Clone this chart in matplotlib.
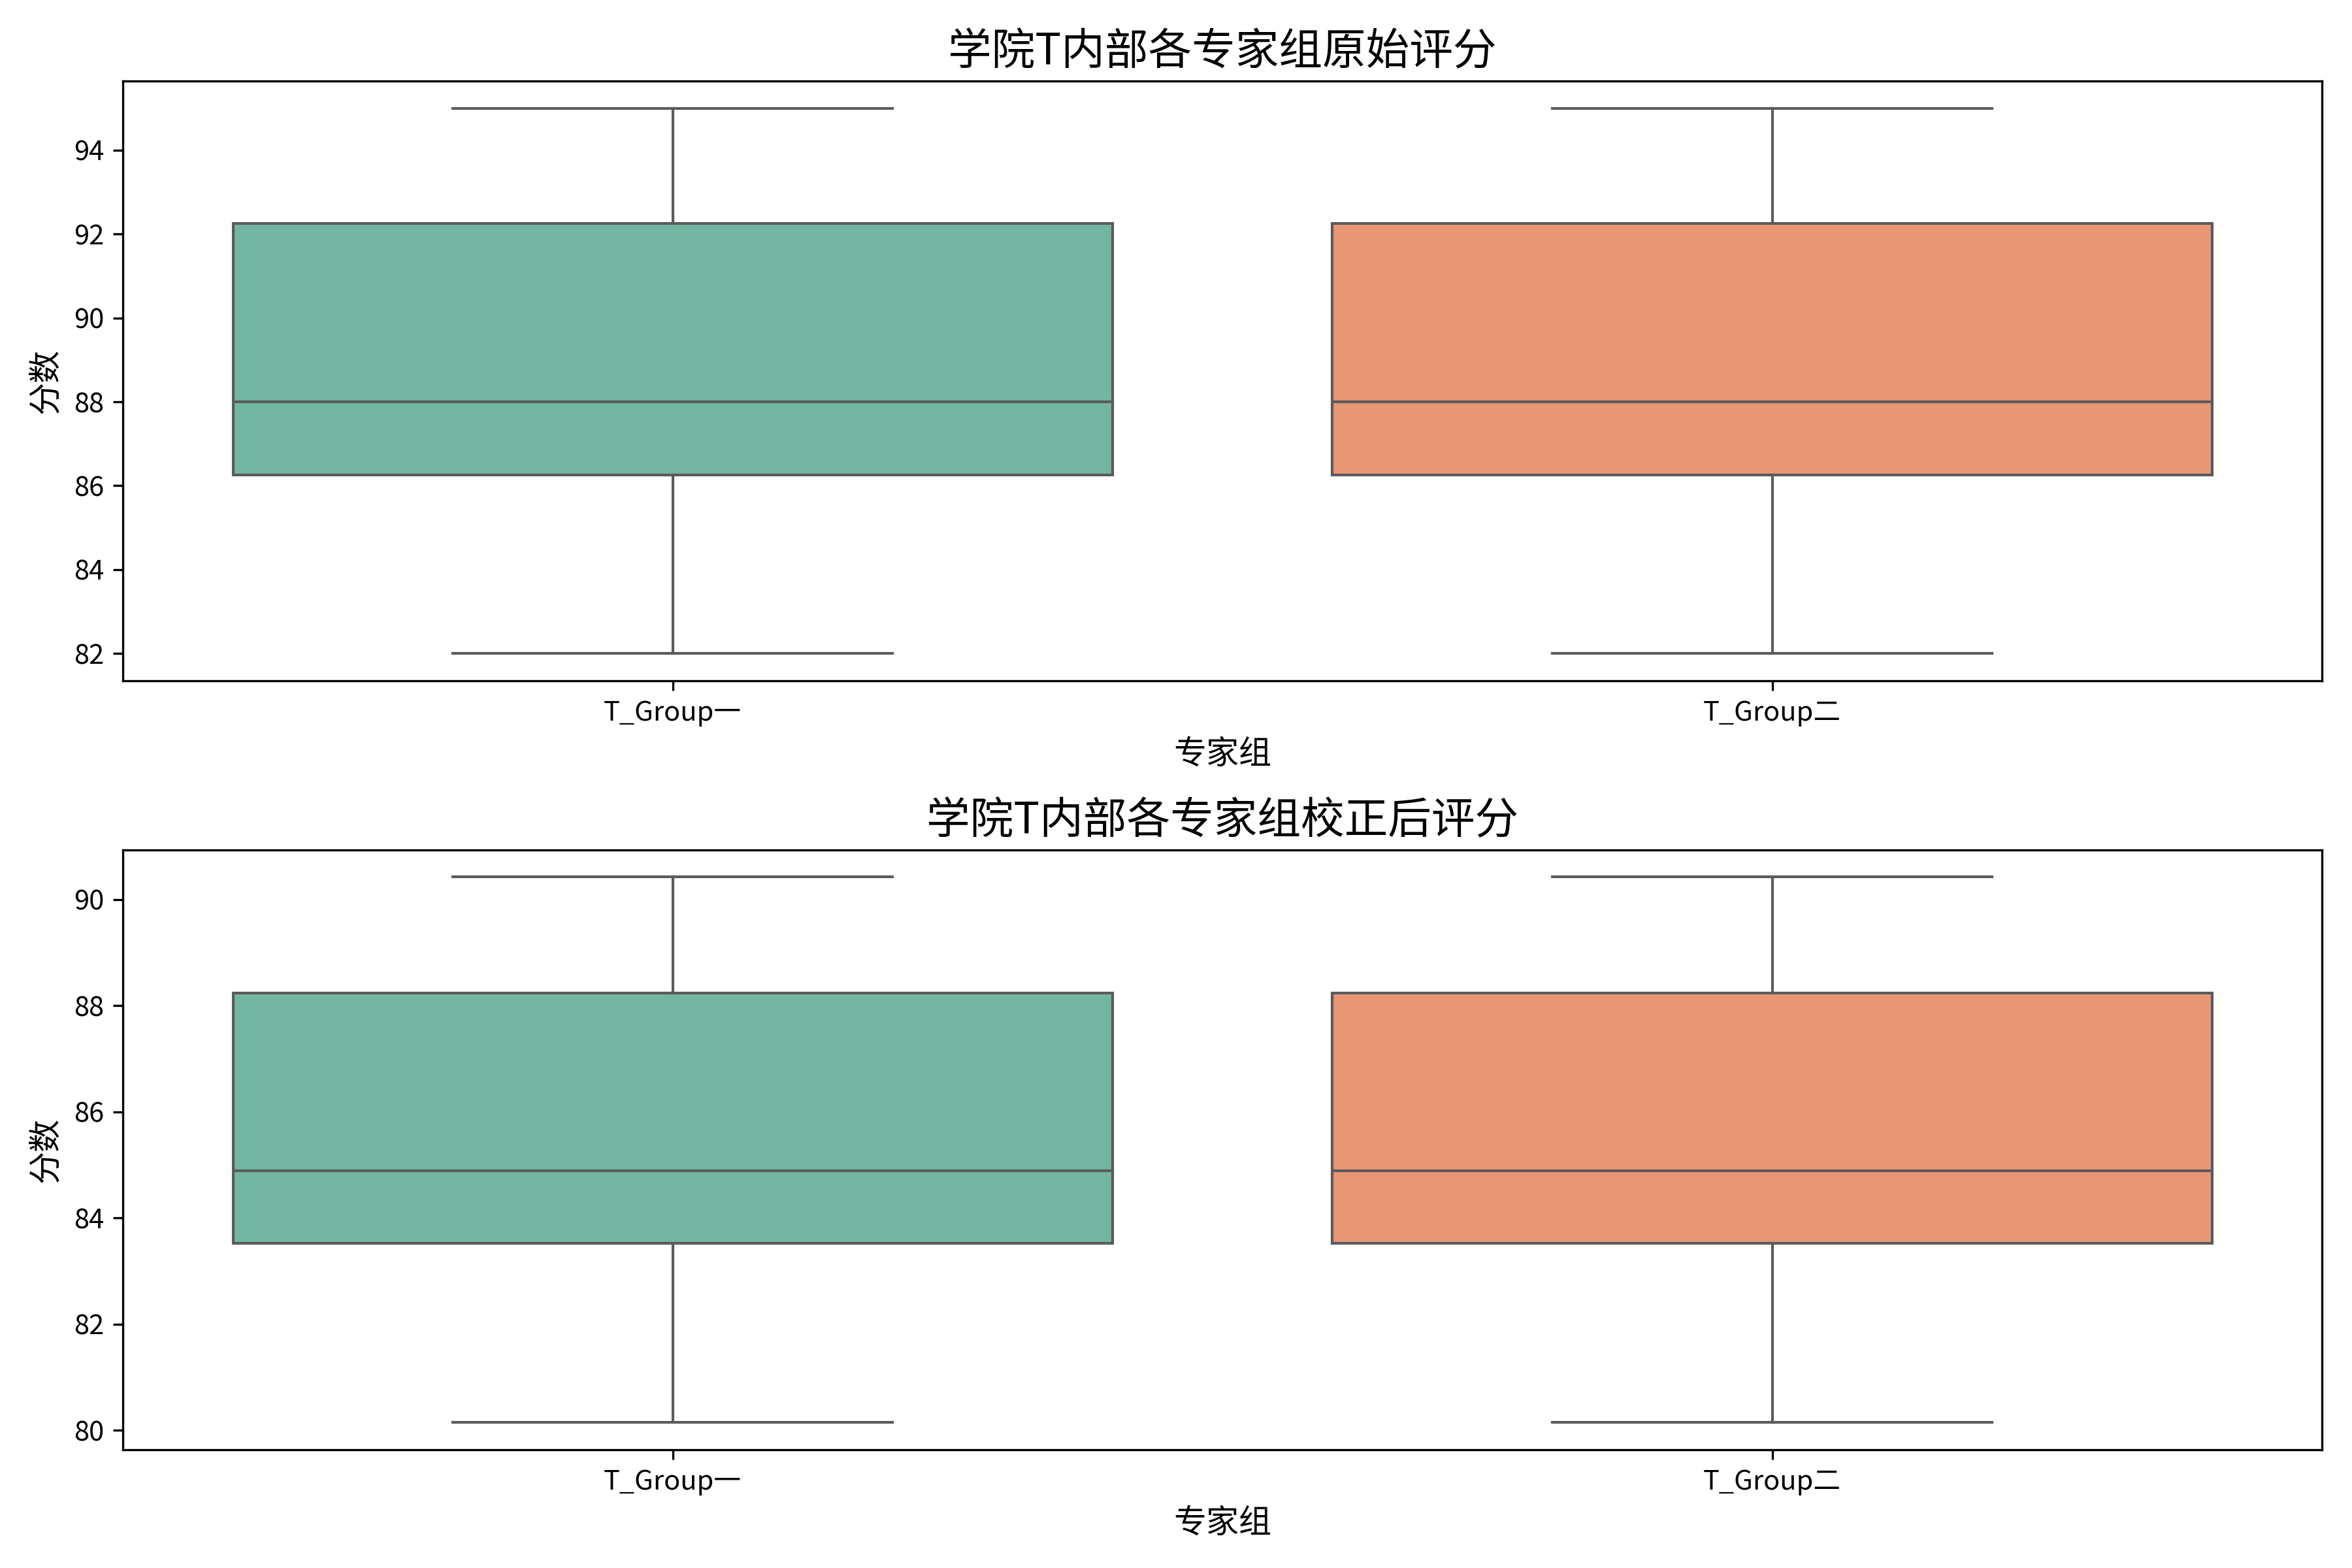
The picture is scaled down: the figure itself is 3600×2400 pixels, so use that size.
import matplotlib
matplotlib.use("Agg")
import matplotlib.pyplot as plt
import seaborn as sns

plt.rcParams['font.family'] = ['Noto Sans CJK SC', 'DejaVu Sans']
plt.rcParams['axes.unicode_minus'] = False

groups = ["T_Group一", "T_Group二"]

# box statistics: whisker low, Q1, median, Q3, whisker high
raw_low = [82.0, 82.0]
raw_q1 = [86.25, 86.25]
raw_med = [88.0, 88.0]
raw_q3 = [92.25, 92.25]
raw_high = [95.0, 95.0]

adj_low = [80.15, 80.15]
adj_q1 = [83.52, 83.52]
adj_med = [84.89, 84.89]
adj_q3 = [88.24, 88.24]
adj_high = [90.42, 90.42]

titles = ["学院T内部各专家组原始评分", "学院T内部各专家组校正后评分"]

colors = sns.color_palette("Set2", desat=0.75)[:2]
line_col = "#5b5b5b"


def make_stats(low, q1, med, q3, high):
    return [dict(whislo=a, q1=b, med=c, q3=d, whishi=e, fliers=[], label=g)
            for a, b, c, d, e, g in zip(low, q1, med, q3, high, groups)]


fig, axes = plt.subplots(2, 1, figsize=(12, 8))

data = [make_stats(raw_low, raw_q1, raw_med, raw_q3, raw_high),
        make_stats(adj_low, adj_q1, adj_med, adj_q3, adj_high)]

for ax, stats, title in zip(axes, data, titles):
    bp = ax.bxp(stats, positions=range(len(groups)), widths=0.8,
                patch_artist=True, showfliers=False,
                boxprops=dict(edgecolor=line_col, linewidth=1.0),
                whiskerprops=dict(color=line_col, linewidth=1.0),
                capprops=dict(color=line_col, linewidth=1.0),
                medianprops=dict(color=line_col, linewidth=1.0),
                capwidths=0.4)
    for patch, c in zip(bp["boxes"], colors):
        patch.set_facecolor(c)
    ax.set_xlim(-0.5, len(groups) - 0.5)
    ax.set_xticks(range(len(groups)))
    ax.set_xticklabels(groups)
    ax.set_title(title, fontsize=16)
    ax.set_xlabel("专家组", fontsize=12)
    ax.set_ylabel("分数", fontsize=12)

fig.subplots_adjust(left=0.0523, right=0.9872, top=0.9483, bottom=0.0756,
                    hspace=0.282)
fig.savefig("out.png", dpi=300)
